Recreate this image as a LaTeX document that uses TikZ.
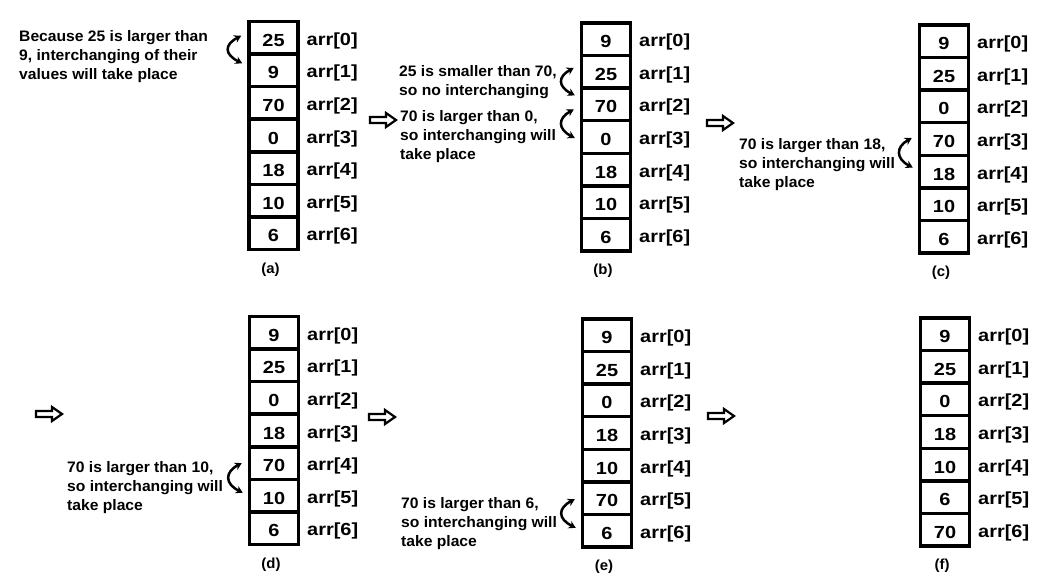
\documentclass[tikz,border=0pt]{standalone}
\usepackage{fontspec}
\setmainfont{Liberation Sans}
\newfontfamily\notefont{Liberation Sans}[FakeStretch=1.03]
\newfontfamily\cellfont{Liberation Sans}[FakeStretch=1.14]
\usetikzlibrary{arrows.meta}
\tikzset{
  cellbox/.style={draw, line width=3.5pt, minimum width=49pt, minimum height=32.6pt, inner sep=0pt},
  cellval/.style={inner sep=0pt, font=\cellfont\bfseries\fontsize{17.5}{20}\selectfont},
  idxlabel/.style={anchor=west, inner sep=0pt, font=\cellfont\bfseries\fontsize{17.5}{20}\selectfont},
  caption/.style={inner sep=0pt, font=\notefont\bfseries\fontsize{14.5}{16}\selectfont},
  note/.style={anchor=north west, inner sep=0pt, align=left, font=\notefont\bfseries\fontsize{15.2}{19}\selectfont},
  swaparrow/.style={line width=2.5pt, {Stealth[length=7pt,width=8pt]}-{Stealth[length=7pt,width=8pt]}},
  hollowarrow/.pic={\draw[line width=2.2pt, fill=white, line join=miter]
      (0,-3) -- (16,-3) -- (16,-7) -- (26,0) -- (16,7) -- (16,3) -- (0,3) -- cycle;}
}
\begin{document}
\begin{tikzpicture}[x=1pt, y=-1pt]
\useasboundingbox (0,0) rectangle (1048,587);
\fill[white] (0,0) rectangle (1048,587);
\foreach \p/\cx/\cy/\vals in {
  a/273.5/135.5/{25,9,70,0,18,10,6},
  b/606/137/{9,25,70,0,18,10,6},
  c/944/139/{9,25,0,70,18,10,6},
  d/274/430.5/{9,25,0,18,70,10,6},
  e/607/433/{9,25,0,18,10,70,6},
  f/945/432/{9,25,0,18,10,6,70}}{
  \foreach \v [count=\i from 0] in \vals {
    \node[cellbox] (\p\i) at (\cx, {\cy+(\i-3)*32.6}) {};
    \node[cellval] (v\p\i) at (\cx, {\cy+(\i-3)*32.6+2.5}) {\v};
    \node[idxlabel] (l\p\i) at (\cx+33, {\cy+(\i-3)*32.6+3}) {arr[\i]};
  }
  \node[caption] (cap\p) at (\cx-3, \cy+134) {(\p)};
}
% annotations
\node[note] (na) at (19,30) {Because 25 is larger than\\9, interchanging of their\\values will take place};
\node[note] (nb1) at (399,65) {25 is smaller than 70,\\so no interchanging};
\node[note] (nb2) at (400,110.7) {70 is larger than 0,\\so interchanging will\\take place};
\node[note] (nc) at (739,138) {70 is larger than 18,\\so interchanging will\\take place};
\node[note] (nd) at (67,461.7) {70 is larger than 10,\\so interchanging will\\take place};
\node[note] (ne) at (401,497) {70 is larger than 6,\\so interchanging will\\take place};
% curved swap arrows
\draw[swaparrow] ([shift={(-6pt,2pt)}]a0.west) .. controls +(-17,9) and +(-18,-9) .. ([shift={(-5pt,7pt)}]a1.west);
\draw[swaparrow] ([shift={(-6pt,4pt)}]b1.west) .. controls +(-16,9) and +(-17,-9) .. ([shift={(-5pt,9pt)}]b2.west);
\draw[swaparrow] ([shift={(-6pt,-5pt)}]b2.west) .. controls +(-16,9) and +(-17,-9) .. ([shift={(-5pt,-1pt)}]b3.west);
\draw[swaparrow] ([shift={(-6pt,1pt)}]c3.west) .. controls +(-16,9) and +(-17,-9) .. ([shift={(-5pt,4pt)}]c4.west);
\draw[swaparrow] ([shift={(-6pt,0pt)}]d4.west) .. controls +(-17,9) and +(-18,-9) .. ([shift={(-5pt,3pt)}]d5.west);
\draw[swaparrow] ([shift={(-6pt,-1pt)}]e5.west) .. controls +(-17,9) and +(-18,-9) .. ([shift={(-5pt,3pt)}]e6.west);
% hollow step arrows
\pic at (370,120) {hollowarrow};
\pic at (707,123) {hollowarrow};
\pic at (36,414) {hollowarrow};
\pic at (369,417) {hollowarrow};
\pic at (708,416) {hollowarrow};
\end{tikzpicture}
\end{document}
